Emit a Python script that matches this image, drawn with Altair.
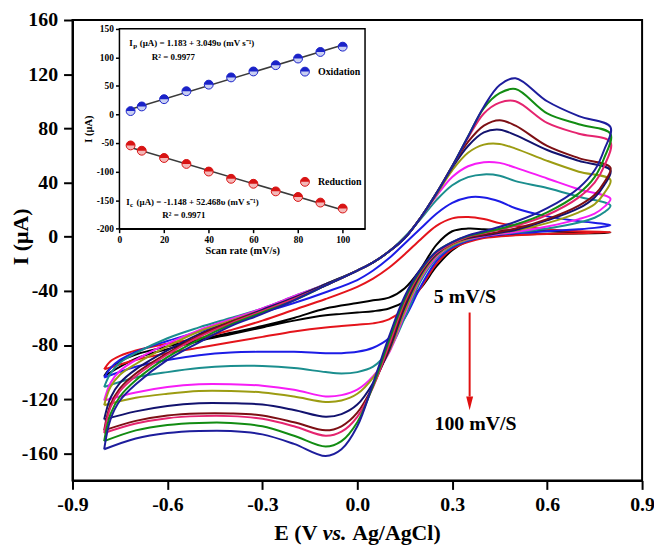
import altair as alt
import pandas as pd

FONT = "Liberation Serif"

# ---------------- main CV data ----------------
RATES = [5, 10, 20, 30, 40, 50, 60, 70, 80, 90, 100]
COLORS = ["#000000", "#e4141b", "#1c1ce6", "#1b8e8e", "#f61df6", "#9c9c12",
          "#12126e", "#7d0f14", "#e5246f", "#128c12", "#1d1d9c"]

E_FWD = [-0.8, -0.78, -0.75, -0.7, -0.6, -0.5, -0.4, -0.3, -0.2, -0.1, 0.0, 0.05,
         0.1, 0.15, 0.2, 0.25, 0.3, 0.35, 0.4, 0.45, 0.5, 0.6, 0.7, 0.8]
E_REV = [0.78, 0.75, 0.7, 0.6, 0.5, 0.4, 0.35, 0.3, 0.25, 0.2, 0.15, 0.1, 0.05,
         0.0, -0.05, -0.1, -0.2, -0.3, -0.4, -0.5, -0.6, -0.7, -0.8]

FWD_5 = [-103, -97, -92, -87, -81, -76, -71, -66, -60, -53, -49, -47, -45, -38, -24, -6, 4, 6, 5.5, 5, 4.5, 4, 3.5, 3]
REV_5 = [2.8, 2.6, 2.4, 2, 1.5, 0, -3, -10, -22, -38, -48, -53, -55, -56, -57, -58, -62, -67, -72, -77, -83, -90, -103]
FWD_10 = [-98, -92, -88, -84, -79, -75, -69, -62, -54, -46, -37, -31, -23, -13, -2, 8, 13.5, 14.5, 13, 10, 8, 5.5, 4, 3.5]
REV_10 = [3.2, 3, 2.5, 2, 1, -1, -4, -9, -20, -38, -53, -61, -64, -65, -66, -67, -70, -74, -78, -82, -86, -91, -98]
FWD_20 = [-104, -97, -91, -85, -77, -70, -63, -56, -49, -41, -32, -25, -16, -5, 6, 17, 25, 29, 29, 26, 21, 15, 11.5, 8.6]
REV_20 = [7.5, 6.5, 5.5, 4, 2.5, 0, -3, -8, -18, -37, -60, -75, -82, -85, -86, -86, -85, -85, -85.5, -87.5, -91, -96, -104]
FWD_30 = [-111, -101, -93, -86, -75, -67, -60, -53, -44, -35, -25, -19, -11, 0, 13, 27, 38, 44, 46, 45, 41, 36, 29.5, 23]
REV_30 = [18, 14, 10.5, 6, 3, 0.5, -2.5, -7, -16, -33, -60, -84, -96, -100, -101, -100, -97, -95.5, -95.5, -97, -100, -104, -111]
FWD_40 = [-121, -108, -99, -91, -79, -69, -61, -53, -44, -35, -25, -19, -11, -1, 14, 30, 44, 52, 55, 54.5, 51, 43, 35, 28]
REV_40 = [22, 17, 13, 7.5, 3.5, 0.5, -2, -6, -15, -31, -57, -86, -103, -113, -117, -118, -113, -110, -109, -109, -111, -115, -121]
FWD_50 = [-124.5, -111, -102, -94, -81, -70, -62, -54, -45, -35, -25, -19, -11, -1, 14, 31, 49, 62, 68, 68.5, 65, 56, 48, 42]
REV_50 = [32, 24, 18, 10, 4.5, 1, -1.5, -6, -14, -30, -55, -85, -104, -116, -121, -122, -118, -115, -114, -114, -116, -119, -124.5]
FWD_60 = [-135, -119, -108, -98, -84, -72, -63, -54, -45, -35, -25, -19, -11, -1, 14, 32, 51, 67, 77, 79, 75, 64, 56, 49]
REV_60 = [38, 29, 21, 12, 5, 1, -1, -5, -13, -28, -52, -84, -108, -124, -131, -133, -128, -124, -123, -123, -125, -129, -135]
FWD_70 = [-143, -124, -112, -101, -86, -73, -63, -55, -46, -36, -25, -19, -11, -1, 14, 32, 52, 70, 82, 86, 82, 67, 58, 51]
REV_70 = [40, 31, 23, 13, 6, 1.5, -0.5, -5, -12, -27, -50, -82, -110, -130, -140, -143, -137, -132, -130.5, -130.5, -132, -136, -143]
FWD_80 = [-145, -126, -114, -103, -87, -74, -64, -55, -46, -36, -25, -19, -11, -1, 14, 32, 52, 73, 91, 99, 100, 84, 76, 70]
REV_80 = [52, 40, 29, 16, 8, 2.5, 0, -5, -12, -26, -48, -80, -111, -133, -144, -147, -140, -134.5, -132.5, -132.5, -134, -138, -145]
FWD_90 = [-151, -131, -118, -106, -89, -76, -65, -56, -47, -36, -25, -19, -11, -1, 14, 32, 52, 74, 95, 106, 109, 91, 83, 76]
REV_90 = [58, 44, 32, 18, 9, 3, 0.5, -4, -11, -25, -46, -77, -110, -137, -151, -155, -147, -140, -137.5, -137.5, -139, -143, -151]
FWD_100 = [-157, -135, -121, -109, -91, -78, -66, -57, -47, -36, -25, -19, -11, -1, 14, 32, 52, 74, 96, 112, 117, 100, 89, 81]
REV_100 = [64, 49, 36, 21, 11, 4, 1, -4, -11, -24, -44, -74, -108, -140, -157, -162, -153, -146, -143.5, -143.5, -145, -149, -157]

FWD = [FWD_5, FWD_10, FWD_20, FWD_30, FWD_40, FWD_50, FWD_60, FWD_70, FWD_80, FWD_90, FWD_100]
REV = [REV_5, REV_10, REV_20, REV_30, REV_40, REV_50, REV_60, REV_70, REV_80, REV_90, REV_100]

X_TICKS = [-0.9, -0.6, -0.3, 0.0, 0.3, 0.6, 0.9]
Y_TICKS = [-160, -120, -80, -40, 0, 40, 80, 120, 160]

# ---------------- inset data ----------------
SCAN = [5, 10, 20, 30, 40, 50, 60, 70, 80, 90, 100]
OX = [5.8, 13.9, 26.6, 40.5, 52, 64.7, 75.1, 86.1, 97.7, 109.2, 118.5]
RED = [-54.3, -63.6, -76.3, -86.7, -100, -112.7, -121.4, -134.7, -144.5, -154.3, -164.7]
IN_X_TICKS = [0, 20, 40, 60, 80, 100]
IN_Y_TICKS = [-200, -150, -100, -50, 0, 50, 100, 150]

# ---------------- layout (pixels) ----------------
PAD_TOP = 10
W, H = 574, 464
TOP = 8 + PAD_TOP

# ---------------- build tables ----------------
names = ["r%03d" % r for r in RATES]
rows = []
for name, fw, rv in zip(names, FWD, REV):
    pts = list(zip(E_FWD, fw)) + list(zip(E_REV, rv))
    for k, (e, i) in enumerate(pts):
        rows.append({"curve": name, "E": e, "I": i, "idx": k})
cv_df = pd.DataFrame(rows)

neg_fmt = lambda f: "datum.value < 0 ? '-' + format(-datum.value, '%s') : format(datum.value, '%s')" % (f, f)

x_main = alt.X("E:Q", scale=alt.Scale(domain=[-0.9, 0.9], nice=False, zero=False),
               axis=alt.Axis(values=X_TICKS, labelExpr=neg_fmt(".1f"), title=None,
                             tickSize=9, tickWidth=2, domainWidth=2, domainColor="black",
                             tickColor="black", labelColor="black", labelFont=FONT,
                             labelFontSize=20, labelFontWeight="bold", labelPadding=5,
                             labelFlush=False, grid=False))
y_main = alt.Y("I:Q", scale=alt.Scale(domain=[-180, 160], nice=False, zero=False),
               axis=alt.Axis(values=Y_TICKS, labelExpr=neg_fmt("d"), title="I (µA)",
                             titleX=-52.7, titleY=236 - TOP, titleAngle=270, titleAlign="center",
                             titleBaseline="middle", titleFont=FONT, titleFontSize=22,
                             titleFontWeight="bold", titleColor="black",
                             tickSize=9, tickWidth=2, domainWidth=2, domainColor="black",
                             tickColor="black", labelColor="black", labelFont=FONT,
                             labelFontSize=20, labelFontWeight="bold", labelPadding=6,
                             labelFlush=False, grid=False))

curves = alt.Chart(cv_df).mark_line(interpolate="catmull-rom", strokeWidth=2).encode(
    x=x_main, y=y_main,
    color=alt.Color("curve:N", scale=alt.Scale(domain=names, range=COLORS), legend=None),
    order=alt.Order("idx:Q"),
)

ann_df = pd.DataFrame({"E": [0.242, 0.244], "I": [-44.7, -138.3], "t": ["5 mV/S", "100 mV/S"]})
ann = alt.Chart(ann_df).mark_text(align="left", baseline="middle", font=FONT, fontSize=20,
                                  fontWeight="bold", color="black").encode(x=x_main, y=y_main, text="t:N")

arrow_df = pd.DataFrame({"E": [0.355], "I": [-56], "I2": [-118]})
arrow = alt.Chart(arrow_df).mark_rule(color="#e01010", strokeWidth=2).encode(
    x=x_main, y=y_main, y2="I2:Q")
head_df = pd.DataFrame({"E": [0.355], "I": [-123.1]})
head = alt.Chart(head_df).mark_point(shape="M-0.5,-1L0.5,-1L0,1Z", filled=True, size=196,
                                     color="#e01010", opacity=1).encode(x=x_main, y=y_main)

TY = 535 - TOP
xt1 = alt.Chart(pd.DataFrame({"t": ["E (V"]})).mark_text(
    align="right", baseline="middle", font=FONT, fontSize=22, fontWeight="bold", color="black"
).encode(x=alt.value(246.8), y=alt.value(TY), text="t:N")
xt2 = alt.Chart(pd.DataFrame({"t": ["vs."]})).mark_text(
    align="left", baseline="middle", font=FONT, fontSize=22, fontWeight="bold",
    fontStyle="italic", color="black"
).encode(x=alt.value(252.3), y=alt.value(TY), text="t:N")
xt3 = alt.Chart(pd.DataFrame({"t": ["Ag/AgCl)"]})).mark_text(
    align="left", baseline="middle", font=FONT, fontSize=22, fontWeight="bold", color="black"
).encode(x=alt.value(281.8), y=alt.value(TY), text="t:N")

main = alt.layer(curves, ann, arrow, head, xt1, xt2, xt3)

# ---------------- inset ----------------
IN_TOP, IN_BOT = 26.7 - TOP, 228.3 - TOP
x_in = alt.X("scan:Q", scale=alt.Scale(domain=[0, 110], range=[47.3, 294.8], nice=False, zero=False),
             axis=alt.Axis(orient="bottom", offset=-(H - IN_BOT), values=IN_X_TICKS, title="Scan rate (mV/s)",
                           titleFont=FONT, titleFontSize=10.5, titleFontWeight="bold", titleColor="black",
                           titlePadding=2, labelFont=FONT, labelFontSize=9.5, labelFontWeight="bold",
                           labelColor="black", tickSize=4, tickWidth=1.5, domainWidth=1.5,
                           domainColor="black", tickColor="black", labelPadding=2,
                           labelFlush=False, grid=False))
y_in = alt.Y("I:Q", scale=alt.Scale(domain=[-200, 150], range=[IN_BOT, IN_TOP], nice=False, zero=False),
             axis=alt.Axis(orient="left", offset=-47.3, values=IN_Y_TICKS, labelExpr=neg_fmt("d"),
                           title="I (µA)", titleFont=FONT, titleFontSize=10.5, titleFontWeight="bold",
                           titleColor="black", titlePadding=3, labelFont=FONT, labelFontSize=9.5,
                           labelFontWeight="bold", labelColor="black", tickSize=4, tickWidth=1.5,
                           domainWidth=1.5, domainColor="black", tickColor="black", labelPadding=2,
                           labelFlush=False, grid=False))

frame_df = pd.DataFrame({"scan": [0], "scan2": [110], "I": [-200], "I2": [150]})
frame = alt.Chart(frame_df).mark_rect(fill="white", stroke="black", strokeWidth=1.5).encode(
    x=x_in, x2="scan2:Q", y=y_in, y2="I2:Q")

pts_df = pd.DataFrame({
    "scan": SCAN + SCAN,
    "I": OX + RED,
    "type": ["Oxidation"] * len(SCAN) + ["Reduction"] * len(SCAN),
})
pts_df["tdark"] = pts_df["type"] + " top"
leg_df = pd.DataFrame({"scan": [83.1, 83.1], "I": [74.8, -118.0], "type": ["Oxidation", "Reduction"]})
leg_df["tdark"] = leg_df["type"] + " top"

fill_scale = alt.Scale(domain=["Oxidation", "Reduction", "Oxidation top", "Reduction top"],
                       range=["#c9cff2", "#f3b8b8", "#1a22c8", "#d81414"])
stroke_scale = alt.Scale(domain=["Oxidation", "Reduction"], range=["#1a22c8", "#d81414"])

reg = alt.Chart(pts_df).transform_regression("scan", "I", groupby=["type"]).mark_line(
    color="#3a3a3a", strokeWidth=1.5).encode(x=x_in, y=y_in, detail="type:N")

def half_circles(df):
    base = alt.Chart(df).mark_point(shape="circle", filled=True, size=80, strokeWidth=1, opacity=1).encode(
        x=x_in, y=y_in,
        fill=alt.Fill("type:N", scale=fill_scale, legend=None),
        stroke=alt.Stroke("type:N", scale=stroke_scale, legend=None))
    top = alt.Chart(df).mark_point(shape="M-1,0A1,1,0,0,1,1,0Z", filled=True, size=80, opacity=1).encode(
        x=x_in, y=y_in, fill=alt.Fill("tdark:N", scale=fill_scale, legend=None))
    return [base, top]

leg_txt = alt.Chart(pd.DataFrame({"scan": [88.9, 88.9], "I": [74.8, -118.0],
                                  "t": ["Oxidation", "Reduction"]})).mark_text(
    align="left", baseline="middle", font=FONT, fontSize=10, fontWeight="bold", color="black"
).encode(x=x_in, y=y_in, text="t:N")

eq_pos = pd.DataFrame({"scan": [4.4, 3.0], "I": [124.0, -152.6]})
eq_I = alt.Chart(eq_pos.assign(t=["I", "I"])).mark_text(
    align="left", baseline="middle", font=FONT, fontSize=9, fontWeight="bold", color="black"
).encode(x=x_in, y=y_in, text="t:N")
eq_sub = alt.Chart(eq_pos.assign(t=["p", "c"])).mark_text(
    align="left", baseline="middle", font=FONT, fontSize=7, fontWeight="bold", color="black", dx=4, dy=3
).encode(x=x_in, y=y_in, text="t:N")
eq_rest = alt.Chart(eq_pos.assign(t=["(µA) = 1.183 + 3.049υ (mV s⁻¹)",
                                     "(µA) = -1.148 + 52.468υ (mV s⁻¹)"])).mark_text(
    align="left", baseline="middle", font=FONT, fontSize=9, fontWeight="bold", color="black", dx=10.5
).encode(x=x_in, y=y_in, text="t:N")
r2 = alt.Chart(pd.DataFrame({"scan": [14.5, 19.2], "I": [100.9, -175.7],
                             "t": ["R² = 0.9977", "R² = 0.9971"]})).mark_text(
    align="left", baseline="middle", font=FONT, fontSize=9, fontWeight="bold", color="black"
).encode(x=x_in, y=y_in, text="t:N")

inset = alt.layer(frame, reg, *half_circles(pts_df), *half_circles(leg_df),
                  leg_txt, eq_I, eq_sub, eq_rest, r2)

chart = alt.layer(main, inset).resolve_scale(
    x="independent", y="independent", color="independent", fill="independent", stroke="independent"
).resolve_axis(x="independent", y="independent").properties(
    width=W, height=H,
    autosize=alt.AutoSizeParams(type="none"),
    padding={"left": 65, "top": PAD_TOP, "right": 12, "bottom": 69},
    background="white",
).configure_view(stroke="black", strokeWidth=2)

chart.save("out.html", embed_options={"renderer": "svg", "actions": False})
